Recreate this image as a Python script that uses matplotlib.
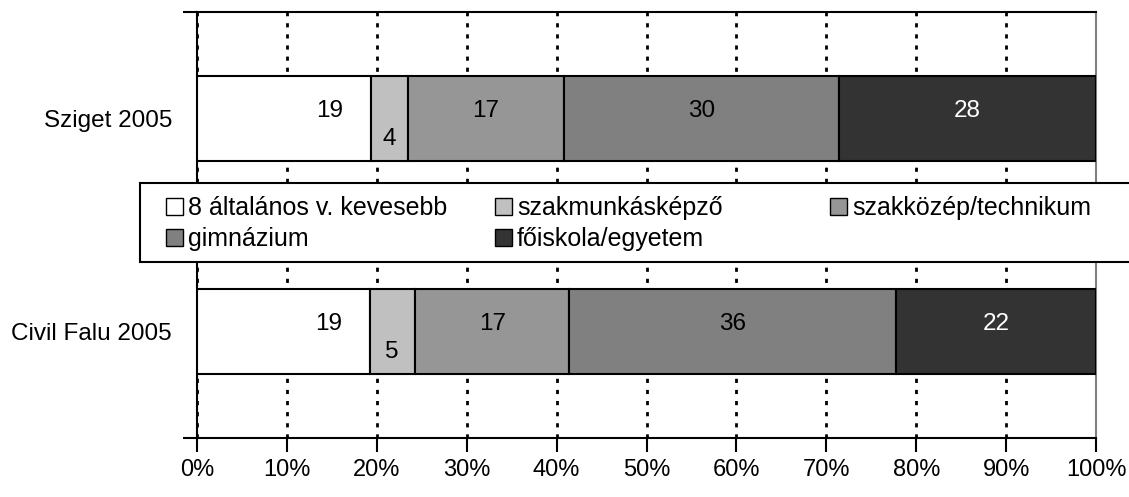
import matplotlib.pyplot as plt
from matplotlib.patches import Patch, Rectangle

plt.rcParams['font.family'] = ['Liberation Sans', 'DejaVu Sans']

# data
categories = ["Sziget 2005", "Civil Falu 2005"]
series = ["8 általános v. kevesebb", "szakmunkásképző", "szakközép/technikum",
          "gimnázium", "főiskola/egyetem"]
sziget = [19, 4, 17, 30, 28]
civil = [19, 5, 17, 36, 22]
colors = ["#FFFFFF", "#C0C0C0", "#969696", "#808080", "#333333"]
text_colors = ["black", "black", "black", "black", "white"]
xtick_labels = ["0%", "10%", "20%", "30%", "40%", "50%", "60%", "70%", "80%", "90%", "100%"]

W, H = 1129, 497
fig = plt.figure(figsize=(W / 100, H / 100), dpi=100)
ax = fig.add_axes([197/W, 1 - 438/H, (1096 - 197)/W, 426/H])

rows = [sziget, civil]
ypos = [1, 0]
for y, vals in zip(ypos, rows):
    total = sum(vals)
    left = 0
    for i, v in enumerate(vals):
        w = v / total
        ax.barh(y, w, left=left, height=0.4, color=colors[i], edgecolor="black",
                linewidth=1.5, zorder=3)
        # label position: first segment sits right of centre, tiny segments a bit lower
        xl = left + w * 0.76 if i == 0 else left + w / 2
        yl = y - 0.095 if v <= 5 else y + 0.035
        ax.text(xl, yl, str(v), ha="center", va="center", fontsize=17.5,
                color=text_colors[i], zorder=4)
        left += w

ax.set_xlim(0, 1)
ax.set_ylim(-0.5, 1.5)
ax.set_xticks([i / 10 for i in range(11)])
ax.set_xticklabels(xtick_labels, fontsize=17)
ax.tick_params(axis="x", length=10, width=1.5, pad=5, direction="out")
ax.set_yticks(ypos)
ax.set_yticklabels(categories, fontsize=17.5)
ax.tick_params(axis="y", which="major", length=0, pad=18)
ax.set_yticks([-0.5, 0.5, 1.5], minor=True)
ax.tick_params(axis="y", which="minor", length=10, width=1.5, direction="out")

ax.grid(axis="x", color="black", linestyle=(0, (1.5, 2.5)), linewidth=2, zorder=1)
for s in ["left", "bottom", "top"]:
    ax.spines[s].set_linewidth(1.5)
ax.spines["right"].set_color("#808080")
ax.spines["right"].set_linewidth(1.5)

# legend box runs past the right edge of the picture
fig.patches.append(Rectangle((140/W, 1 - 262/H), 1050/W, 79/H, transform=fig.transFigure,
                             facecolor="white", edgecolor="black", linewidth=1.5, zorder=5))

handles = [Patch(facecolor=c, edgecolor="black", linewidth=1) for c in colors]
# three legend columns, filled row by row like the original
columns = [[0, 3], [1, 4], [2]]
col_x = [166, 495, 830]
for idx, x in zip(columns, col_x):
    leg = fig.legend([handles[i] for i in idx], [series[i] for i in idx],
                     loc="upper left", bbox_to_anchor=(x/W, 1 - 196/H),
                     fontsize=18, frameon=False, borderaxespad=0, borderpad=0,
                     handlelength=0.68, handleheight=0.68, handletextpad=0.2,
                     labelspacing=0.28)
    leg.set_zorder(6)

fig.savefig("out.png", dpi=100)
